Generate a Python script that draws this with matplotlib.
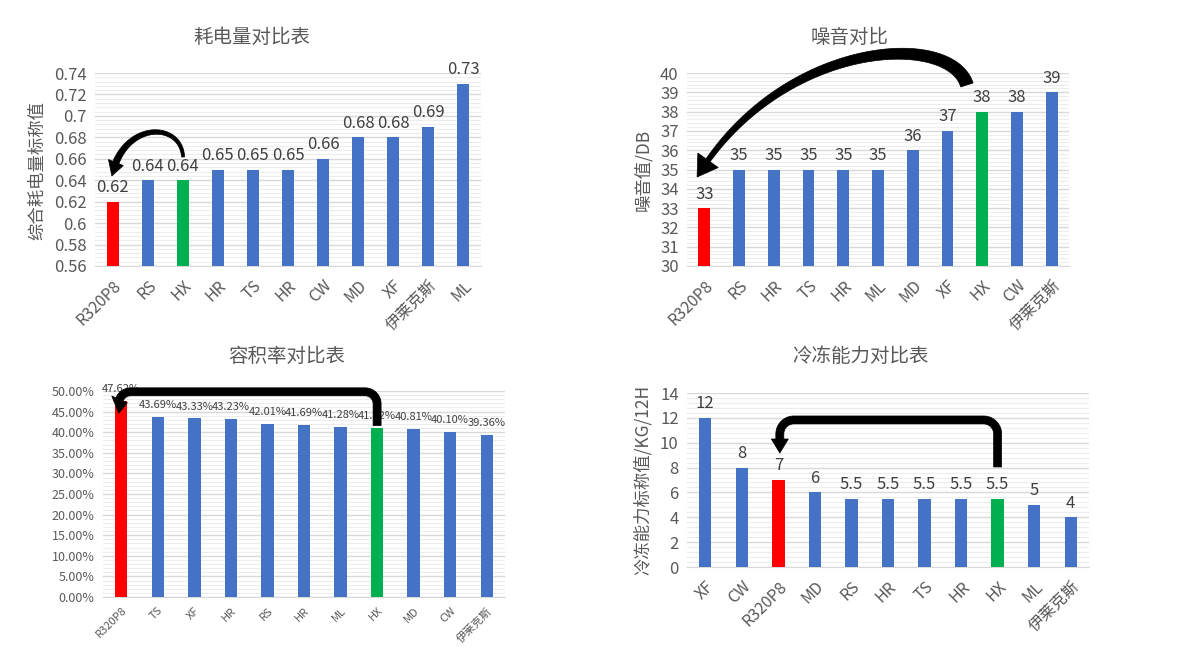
import numpy as np
import matplotlib
matplotlib.use("Agg")
import matplotlib.pyplot as plt
from matplotlib.patches import Polygon
from matplotlib.transforms import IdentityTransform
from matplotlib.ticker import MultipleLocator, AutoMinorLocator, FuncFormatter

plt.rcParams['font.family'] = ['Noto Sans CJK SC', 'DejaVu Sans']

# data
power_names = ['R320P8', 'RS', 'HX', 'HR', 'TS', 'HR', 'CW', 'MD', 'XF', '伊莱克斯', 'ML']
power_vals = [0.62, 0.64, 0.64, 0.65, 0.65, 0.65, 0.66, 0.68, 0.68, 0.69, 0.73]

noise_names = ['R320P8', 'RS', 'HR', 'TS', 'HR', 'ML', 'MD', 'XF', 'HX', 'CW', '伊莱克斯']
noise_vals = [33, 35, 35, 35, 35, 35, 36, 37, 38, 38, 39]

vol_names = ['R320P8', 'TS', 'XF', 'HR', 'RS', 'HR', 'ML', 'HX', 'MD', 'CW', '伊莱克斯']
vol_vals = [47.62, 43.69, 43.33, 43.23, 42.01, 41.69, 41.28, 41.12, 40.81, 40.10, 39.36]

frz_names = ['XF', 'CW', 'R320P8', 'MD', 'RS', 'HR', 'TS', 'HR', 'HX', 'ML', '伊莱克斯']
frz_vals = [12, 8, 7, 6, 5.5, 5.5, 5.5, 5.5, 5.5, 5, 4]

BLUE = '#4472C4'
RED = '#FF0000'
GREEN = '#00B050'
GRAY = '#595959'

fig = plt.figure(figsize=(12, 6.55), dpi=100)


def colors_for(names):
    out = []
    for n in names:
        if n == 'R320P8':
            out.append(RED)
        elif n == 'HX':
            out.append(GREEN)
        else:
            out.append(BLUE)
    return out


def bar_panel(rect, names, vals, ylim, step, fmt, lblfmt, tick_fs, lbl_fs, xfs, xpad, lbl_off):
    ax = fig.add_axes(rect)
    x = np.arange(len(names))
    ax.bar(x, vals, width=0.34, color=colors_for(names), zorder=3)
    ax.set_xlim(-0.5, len(names) - 0.5)
    ax.set_ylim(*ylim)
    ax.yaxis.set_major_locator(MultipleLocator(step))
    ax.yaxis.set_minor_locator(AutoMinorLocator(5))
    ax.yaxis.set_major_formatter(FuncFormatter(fmt))
    ax.grid(axis='y', which='major', color='#D9D9D9', lw=1.0, zorder=0)
    ax.grid(axis='y', which='minor', color='#EDEDED', lw=0.8, zorder=0)
    for s in ['top', 'right', 'left']:
        ax.spines[s].set_visible(False)
    ax.spines['bottom'].set_color('#D9D9D9')
    ax.tick_params(axis='both', which='both', length=0)
    ax.tick_params(axis='y', labelsize=tick_fs, labelcolor=GRAY, pad=6)
    ax.set_xticks(x)
    ax.set_xticklabels(names, rotation=45, ha='right', rotation_mode='anchor',
                       fontsize=xfs, color=GRAY)
    ax.tick_params(axis='x', pad=xpad)
    for xi, v in zip(x, vals):
        ax.annotate(lblfmt(v), (xi, v), xytext=(0, lbl_off), textcoords='offset points',
                    ha='center', va='bottom', fontsize=lbl_fs, color='#404040',
                    annotation_clip=False)
    ax.set_axisbelow(True)
    return ax


def bez(p0, p1, p2, p3, n=200):
    t = np.linspace(0, 1, n)[:, None]
    return ((1 - t) ** 3) * p0 + 3 * ((1 - t) ** 2) * t * p1 + 3 * (1 - t) * t ** 2 * p2 + t ** 3 * p3


def arrow_poly(ax, line, w0, w1, hw, hl):
    # line in display pixels, from tail to tip
    d = np.hypot(*np.diff(line, axis=0).T)
    s = np.concatenate([[0], np.cumsum(d)])
    L = s[-1]
    keep = s < L - hl
    pts = line[keep]
    sk = s[keep]
    base = np.array([np.interp(L - hl, s, line[:, 0]), np.interp(L - hl, s, line[:, 1])])
    pts = np.vstack([pts, base])
    sk = np.concatenate([sk, [L - hl]])
    tan = np.gradient(pts, axis=0)
    tan /= np.hypot(tan[:, 0], tan[:, 1])[:, None]
    nrm = np.column_stack([-tan[:, 1], tan[:, 0]])
    w = w0 + (w1 - w0) * sk / (L - hl)
    left = pts + nrm * w[:, None] / 2
    right = pts - nrm * w[:, None] / 2
    tip = line[-1]
    nb = nrm[-1]
    poly = np.vstack([left, base + nb * hw / 2, tip, base - nb * hw / 2, right[::-1]])
    fig.add_artist(Polygon(poly, closed=True, transform=IdentityTransform(),
                           facecolor='black', edgecolor='black', lw=0.5, zorder=10))


def curve_arrow(ax, pts, w0, w1, hw, hl):
    P = [np.array(ax.transData.transform(p)) for p in pts]
    arrow_poly(ax, bez(*P), w0, w1, hw, hl)


def bracket_arrow(ax, start, top, left_x, tip_y, r, w, hw, hl):
    A = ax.transData.transform(start)
    T = ax.transData.transform((left_x, top))
    D = ax.transData.transform((left_x, tip_y))
    xr, yb = A
    xl, yt = T
    seg = []
    seg.append(np.column_stack([np.full(30, xr), np.linspace(yb, yt - r, 30)]))
    a = np.linspace(0, np.pi / 2, 30)
    seg.append(np.column_stack([xr - r + r * np.cos(a), yt - r + r * np.sin(a)]))
    seg.append(np.column_stack([np.linspace(xr - r, xl + r, 100), np.full(100, yt)]))
    a = np.linspace(np.pi / 2, np.pi, 30)
    seg.append(np.column_stack([xl + r + r * np.cos(a), yt - r + r * np.sin(a)]))
    seg.append(np.column_stack([np.full(30, xl), np.linspace(yt - r, D[1], 30)]))
    line = np.vstack(seg)
    _, idx = np.unique(line.round(3), axis=0, return_index=True)
    line = line[np.sort(idx)]
    arrow_poly(ax, line, w, w, hw, hl)


W, H = 1200, 655


def rect(l, t, r, b):
    return [l / W, 1 - b / H, (r - l) / W, (b - t) / H]


# panel 1
ax1 = bar_panel(rect(95, 73, 481, 266), power_names, power_vals, (0.56, 0.74), 0.02,
                lambda v, p: f'{round(v, 2):g}', lambda v: f'{v:.2f}',
                12, 12, 11.5, 8, 4)
fig.text(252 / W, 1 - 37 / H, '耗电量对比表', ha='center', va='center', fontsize=14, color=GRAY)
fig.text(37 / W, 1 - 170 / H, '综合耗电量标称值', ha='center', va='center', rotation=90,
         fontsize=12.5, color=GRAY)
curve_arrow(ax1, [(2.01, 0.6617), (1.95, 0.6952), (0.30, 0.6952), (-0.02, 0.644)], 3, 6.5, 16, 14)

# panel 2
ax2 = bar_panel(rect(687, 73, 1069, 266), noise_names, noise_vals, (30, 40), 1,
                lambda v, p: f'{v:g}', lambda v: f'{v:g}',
                12, 12, 11.5, 8, 4)
fig.text(850 / W, 1 - 37 / H, '噪音对比', ha='center', va='center', fontsize=14, color=GRAY)
fig.text(643 / W, 1 - 170 / H, '噪音值/DB', ha='center', va='center', rotation=90,
         fontsize=12.5, color=GRAY)
curve_arrow(ax2, [(7.56, 39.38), (7.07, 42.23), (2.18, 41.71), (-0.21, 34.61)], 13, 5, 25, 20)

# panel 3
ax3 = bar_panel(rect(103, 391, 505, 597), vol_names, vol_vals, (0, 50), 5,
                lambda v, p: f'{v:.2f}%', lambda v: f'{v:.2f}%',
                9, 8, 8, 6, 5)
fig.text(287 / W, 1 - 356 / H, '容积率对比表', ha='center', va='center', fontsize=14, color=GRAY)
bracket_arrow(ax3, (7, 41.6), 49.8, -0.07, 44.6, 12, 8, 17, 14)

# panel 4
ax4 = bar_panel(rect(687, 393, 1089, 567), frz_names, frz_vals, (0, 14), 2,
                lambda v, p: f'{v:g}', lambda v: f'{v:g}',
                12, 12, 11.5, 8, 4)
fig.text(861 / W, 1 - 356 / H, '冷冻能力对比表', ha='center', va='center', fontsize=14, color=GRAY)
fig.text(643 / W, 1 - 480 / H, '冷冻能力标称值/KG/12H', ha='center', va='center', rotation=90,
         fontsize=12.5, color=GRAY)
bracket_arrow(ax4, (8, 8.05), 11.83, 2.04, 9.17, 14, 8, 17, 14)

fig.savefig('out.png', dpi=100)
